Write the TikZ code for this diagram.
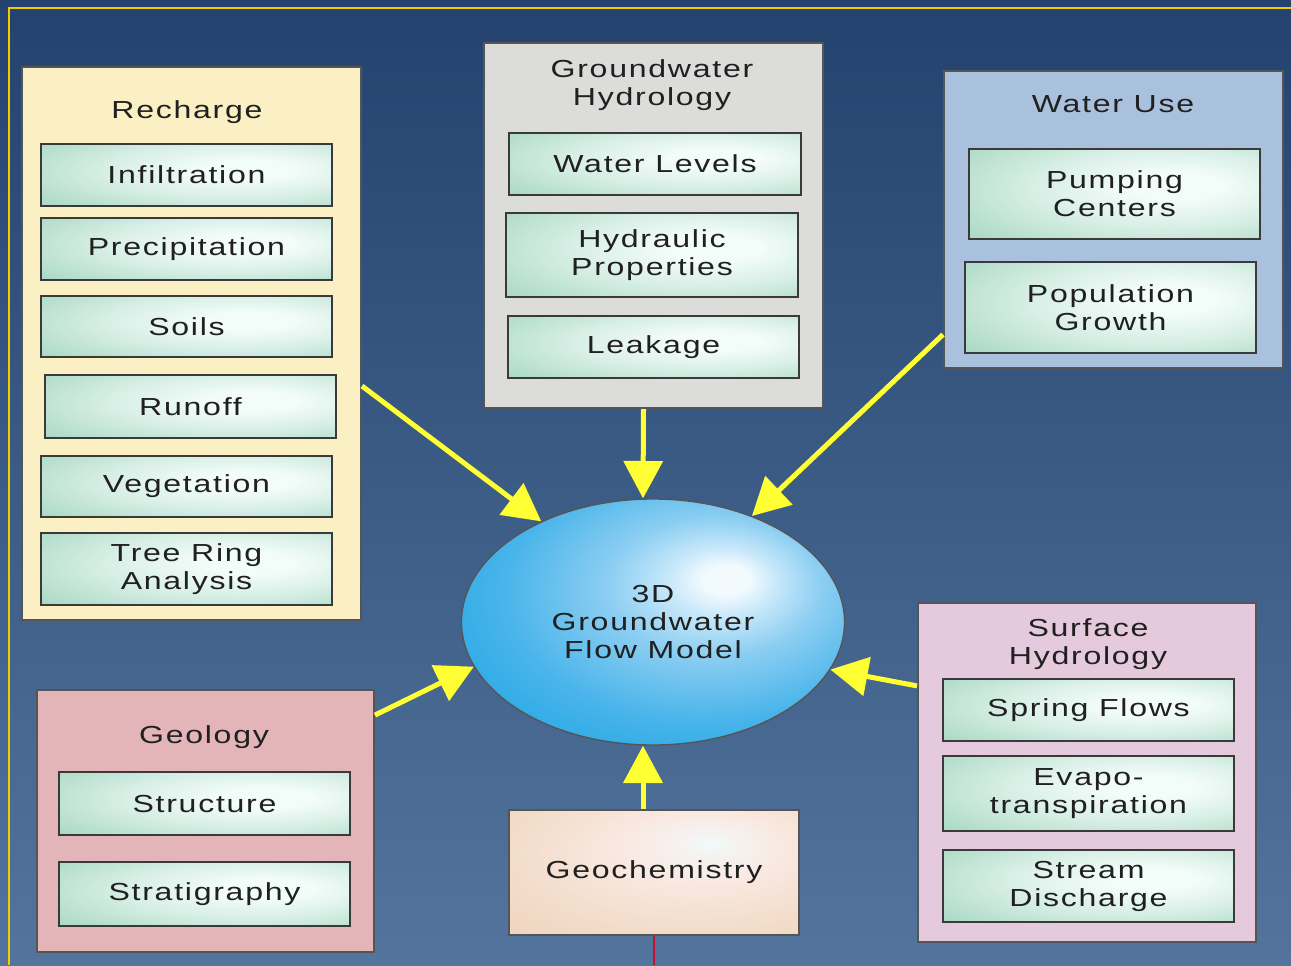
\documentclass[tikz,border=0pt]{standalone}
\usepackage{fontspec}
\newfontfamily\dfont[FakeStretch=1.3,LetterSpace=7]{Liberation Sans}
\usetikzlibrary{shapes.geometric,arrows.meta,fit}
\definecolor{bgtop}{HTML}{23436E}
\definecolor{bgbot}{HTML}{53749C}
\definecolor{frameyellow}{HTML}{F5C800}
\definecolor{arrowyellow}{HTML}{FFFF33}
\definecolor{rechfill}{HTML}{FBF0C4}
\definecolor{gwfill}{HTML}{DCDCDA}
\definecolor{wufill}{HTML}{A9C1DC}
\definecolor{surffill}{HTML}{E5C9DD}
\definecolor{geofill}{HTML}{E3B5B9}
\definecolor{boxedge}{HTML}{555555}
\definecolor{subedge}{HTML}{3A3A3A}
\definecolor{txt}{HTML}{202020}
\definecolor{redline}{HTML}{C8102E}
\definecolor{gA}{HTML}{F2FCF8}
\definecolor{gB}{HTML}{D8EFE6}
\definecolor{gC}{HTML}{A6D7C1}
\definecolor{sA}{HTML}{F2FAFE}
\definecolor{sB}{HTML}{C8E8FA}
\definecolor{sC}{HTML}{8CCEF2}
\definecolor{sD}{HTML}{48B4EA}
\definecolor{sE}{HTML}{12A2E0}
\definecolor{sF}{HTML}{0096D8}
\definecolor{pA}{HTML}{EEFBFB}
\definecolor{pB}{HTML}{F6F2F0}
\definecolor{pC}{HTML}{F9E8E0}
\definecolor{pD}{HTML}{F3DDCB}
\definecolor{pE}{HTML}{EBD0B6}
\pgfdeclareradialshading{greenbox}{\pgfpoint{12bp}{5bp}}{color(0bp)=(gA); color(8bp)=(gA); color(22bp)=(gB); color(42bp)=(gC); color(75bp)=(gC)}
\pgfdeclareradialshading{seaball}{\pgfpoint{10bp}{9bp}}{color(0bp)=(sA); color(3bp)=(sA); color(7bp)=(sB); color(14bp)=(sC); color(26bp)=(sD); color(42bp)=(sE); color(70bp)=(sF)}
\pgfdeclareradialshading{peachbox}{\pgfpoint{10bp}{12bp}}{color(0bp)=(pA); color(5bp)=(pB); color(15bp)=(pC); color(30bp)=(pD); color(50bp)=(pE); color(80bp)=(pE)}
\tikzset{
  dtext/.style={font=\dfont\fontsize{18.5}{21}\selectfont, text=txt, align=center},
  bigbox/.style={draw=boxedge, line width=1.5pt, inner sep=0pt},
  subbox/.style={draw=subedge, line width=1.5pt, shading=greenbox, inner sep=0pt, label={[dtext]center:#1}},
  titletext/.style={dtext, inner sep=0pt},
  flow/.style={draw=arrowyellow, line width=3.75pt, -{Triangle[length=28pt,width=29pt]}},
}
\begin{document}
\begin{tikzpicture}[x=0.75pt,y=-0.75pt]
\useasboundingbox (0,0) rectangle (1291,965);
\shade[top color=bgtop, bottom color=bgbot] (0,0) rectangle (1291,965);
\draw[frameyellow, line width=1.5pt] (1291,8) -- (9,8) -- (9,965);

% Recharge
\node[bigbox, fill=rechfill, fit={(22,67)(361,620)}] (rech) {};
\node[titletext] (rechT) at (187,112) {Recharge};
\node[subbox={Infiltration}, fit={(41,144)(332,206)}] (infil) {};
\node[subbox={Precipitation}, fit={(41,218)(332,280)}] (precip) {};
\node[subbox={Soils}, fit={(41,296)(332,357)}] (soils) {};
\node[subbox={Runoff}, fit={(45,375)(336,438)}] (runoff) {};
\node[subbox={Vegetation}, fit={(41,456)(332,517)}] (veg) {};
\node[subbox={Tree Ring\\Analysis}, fit={(41,533)(332,605)}] (tree) {};

% Groundwater Hydrology
\node[bigbox, fill=gwfill, fit={(484,43)(823,408)}] (gw) {};
\node[titletext] (gwT) at (652,85) {Groundwater\\Hydrology};
\node[subbox={Water Levels}, fit={(509,133)(801,195)}] (wlev) {};
\node[subbox={Hydraulic\\Properties}, fit={(506,213)(798,297)}] (hyd) {};
\node[subbox={Leakage}, fit={(508,316)(799,378)}] (leak) {};

% Water Use
\node[bigbox, fill=wufill, fit={(944,71)(1283,368)}] (wu) {};
\node[titletext] (wuT) at (1113,104) {Water Use};
\node[subbox={Pumping\\Centers}, fit={(969,149)(1260,239)}] (pump) {};
\node[subbox={Population\\Growth}, fit={(965,262)(1256,353)}] (pop) {};

% Surface Hydrology
\node[bigbox, fill=surffill, fit={(918,603)(1256,942)}] (surf) {};
\node[titletext] (surfT) at (1088,644) {Surface\\Hydrology};
\node[subbox={Spring Flows}, fit={(943,679)(1234,741)}] (spring) {};
\node[subbox={Evapo-\\transpiration}, fit={(943,756)(1234,831)}] (evap) {};
\node[subbox={Stream\\Discharge}, fit={(943,850)(1234,922)}] (stream) {};

% Geology
\node[bigbox, fill=geofill, fit={(37,690)(374,952)}] (geo) {};
\node[titletext] (geoT) at (204,737) {Geology};
\node[subbox={Structure}, fit={(59,772)(350,835)}] (struct) {};
\node[subbox={Stratigraphy}, fit={(59,862)(350,926)}] (strat) {};

% Geochemistry
\node[draw=boxedge, line width=1.5pt, shading=peachbox, inner sep=0pt, fit={(509,810)(799,935)}, label={[dtext]center:Geochemistry}] (gchem) {};
\coordinate (redend) at (654,965);
\draw[redline, line width=1.5pt] (gchem.south) -- (redend);

% Model
\node[ellipse, draw=boxedge, line width=1pt, shading=seaball, minimum width=287.25pt, minimum height=184.5pt, inner sep=0pt, label={[dtext]center:3D\\Groundwater\\Flow Model}] (model) at (653,622) {};

% Arrows
\draw[flow] (rech.-14.8) -- (model.138.5);
\draw[flow] ([xshift=-7.5pt]gw.south) -- ([xshift=-7.5pt]model.north);
\draw[flow] (wu.214.7) -- (model.47.8);
\draw[flow] (surf.153.4) -- (model.-15.2);
\draw[flow] (geo.32.5) -- (model.194.9);
\draw[flow] ([xshift=-8.25pt]gchem.north) -- ([xshift=-7.5pt]model.south);
\end{tikzpicture}
\end{document}
